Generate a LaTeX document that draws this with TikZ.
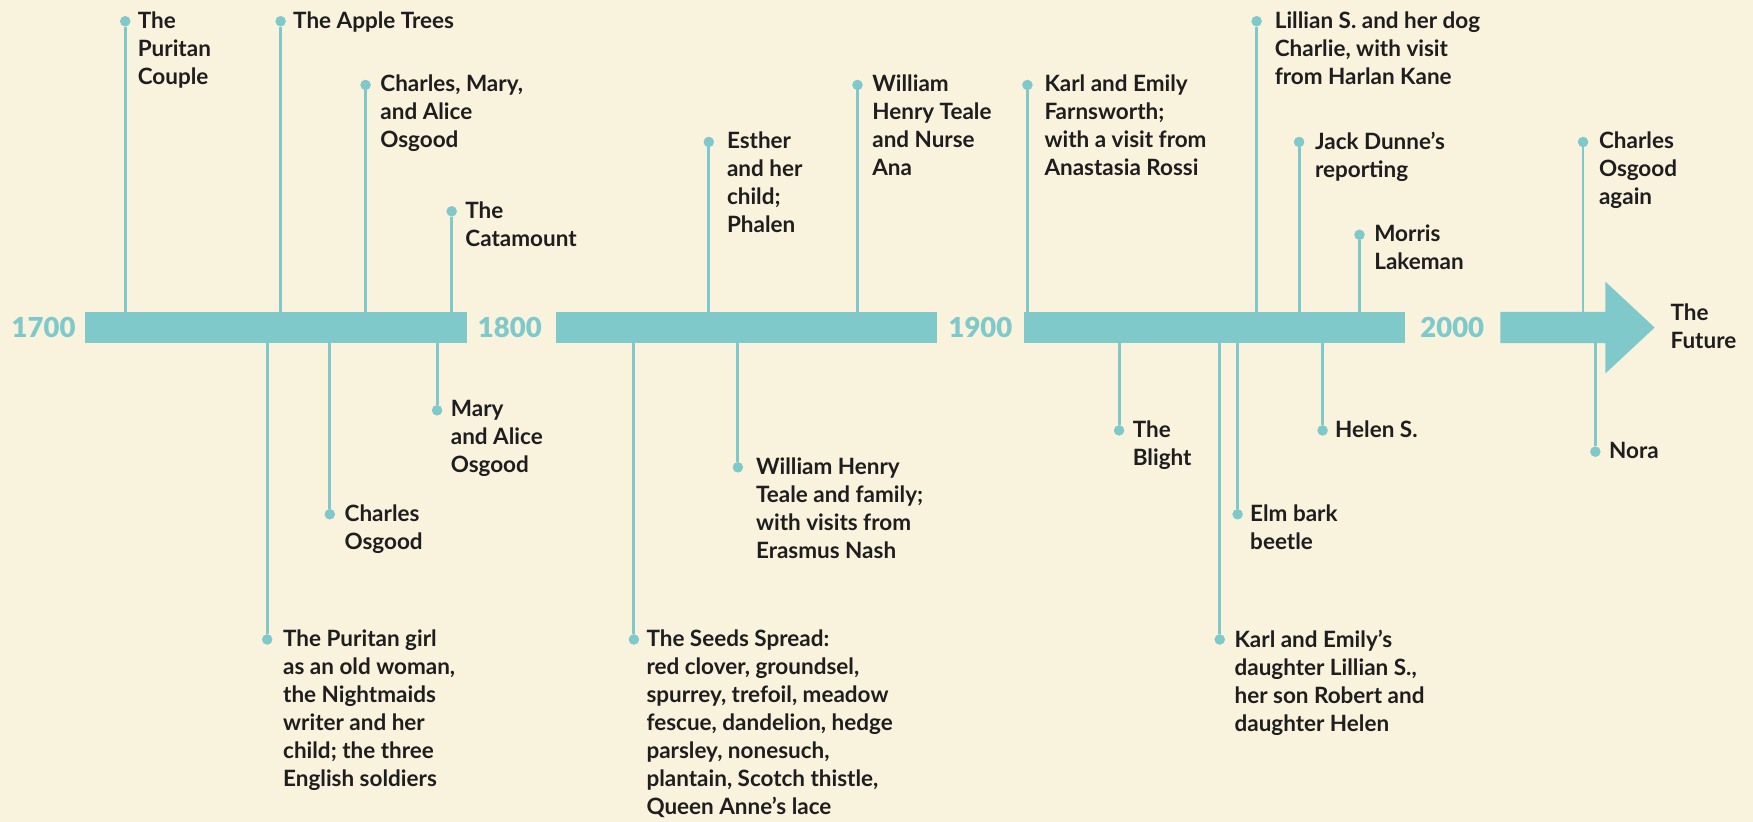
\documentclass[tikz,border=0pt]{standalone}
\usepackage{fontspec}
\setmainfont{Lato}
\IfFontExistsTF{Lato Black}{\newfontfamily\yearfont{Lato Black}}{\newfontfamily\yearfont{Lato}[UprightFont=*-Bold]}
\usetikzlibrary{positioning}

\definecolor{cream}{HTML}{F9F2DD}
\definecolor{aqua}{HTML}{7FC9CB}
\definecolor{ink}{HTML}{1E1E1E}

\tikzset{
  stem/.style={draw=aqua, line width=1.8pt},
  pin/.style={circle, fill=aqua, inner sep=0pt, minimum size=6.5pt},
  event/.style={anchor=north west, inner sep=0pt, align=left, text=ink,
    font=\fontsize{14.3}{17.8}\selectfont\bfseries},
  year/.style={inner sep=0pt, text=aqua, font=\fontsize{17.5}{20}\selectfont\yearfont},
  band/.style={fill=aqua}
}

\begin{document}
\begin{tikzpicture}[x=0.025cm, y=-0.025cm]
        %background
        \fill[cream] (0,0) rectangle (1568,735);
        \useasboundingbox (0,0) rectangle (1568,735);
        \coordinate (bartop) at (0,279);
        \coordinate (barbot) at (0,307);

        %pins above
        \node[pin] (a1) at (112,19) {};
        \node[pin] (a2) at (251,19) {};
        \node[pin] (a3) at (327,76) {};
        \node[pin] (a4) at (404,189) {};
        \node[pin] (a5) at (634,127) {};
        \node[pin] (a6) at (767,76) {};
        \node[pin] (a7) at (919,76) {};
        \node[pin] (a8) at (1124,19) {};
        \node[pin] (a9) at (1162,127) {};
        \node[pin] (a10) at (1216,210) {};
        \node[pin] (a11) at (1416,127) {};

        %pins below
        \node[pin] (b1) at (239,572) {};
        \node[pin] (b2) at (295,460) {};
        \node[pin] (b3) at (391,367) {};
        \node[pin] (b4) at (567,572) {};
        \node[pin] (b5) at (660,418) {};
        \node[pin] (b6) at (1001,385) {};
        \node[pin] (b7) at (1091,572) {};
        \node[pin] (b8) at (1107,460) {};
        \node[pin] (b9) at (1183,385) {};
        \node[pin] (b10) at (1427,404) {};

        %stems
        \foreach \p in {a1,a2,a3,a4,a5,a6,a7,a8,a9,a10,a11}
            \draw[stem] (\p) -- (\p |- bartop);
        \foreach \p in {b1,b2,b3,b4,b5,b6,b7,b8,b9,b10}
            \draw[stem] (\p) -- (\p |- barbot);
        \foreach \p in {a1,a2,a3,a4,a5,a6,a7,a8,a9,a10,a11,b1,b2,b3,b4,b5,b6,b7,b8,b9,b10}
            \fill[aqua] (\p) circle (3.25pt);

        %bar
        \fill[band] (76,279) rectangle (418,307);
        \fill[band] (497,279) rectangle (838,307);
        \fill[band] (916,279) rectangle (1257,307);
        \fill[band] (1342,279) -- (1436,279) -- (1436,252) -- (1480,293)
            -- (1436,334) -- (1436,307) -- (1342,307) -- cycle;

        %years
        \node[year] (y1700) at (39,293) {1700};
        \node[year] (y1800) at (456,293) {1800};
        \node[year] (y1900) at (877,293) {1900};
        \node[year] (y2000) at (1299,293) {2000};
        \node[event, anchor=west] (future) at (1494,292) {The\\Future};

        %labels above
        \node[event] (ta1) at ([shift={(11,-9)}]a1) {The\\Puritan\\Couple};
        \node[event] (ta2) at ([shift={(11,-9)}]a2) {The Apple Trees};
        \node[event] (ta3) at ([shift={(13,-9)}]a3) {Charles, Mary,\\and Alice\\Osgood};
        \node[event] (ta4) at ([shift={(12,-9)}]a4) {The\\Catamount};
        \node[event] (ta5) at ([shift={(16,-9)}]a5) {Esther\\and her\\child;\\Phalen};
        \node[event] (ta6) at ([shift={(13,-9)}]a6) {William\\Henry Teale\\and Nurse\\Ana};
        \node[event] (ta7) at ([shift={(15,-9)}]a7) {Karl and Emily\\Farnsworth;\\with a visit from\\Anastasia Rossi};
        \node[event] (ta8) at ([shift={(16,-9)}]a8) {Lillian S. and her dog\\Charlie, with visit\\from Harlan Kane};
        \node[event] (ta9) at ([shift={(14,-9)}]a9) {Jack Dunne’s\\reporting};
        \node[event] (ta10) at ([shift={(13,-9)}]a10) {Morris\\Lakeman};
        \node[event] (ta11) at ([shift={(14,-9)}]a11) {Charles\\Osgood\\again};

        %labels below
        \node[event] (tb1) at ([shift={(14,-9)}]b1) {The Puritan girl\\as an old woman,\\the Nightmaids\\writer and her\\child; the three\\English soldiers};
        \node[event] (tb2) at ([shift={(13,-9)}]b2) {Charles\\Osgood};
        \node[event] (tb3) at ([shift={(12,-9)}]b3) {Mary\\and Alice\\Osgood};
        \node[event] (tb4) at ([shift={(11,-9)}]b4) {The Seeds Spread:\\red clover, groundsel,\\spurrey, trefoil, meadow\\fescue, dandelion, hedge\\parsley, nonesuch,\\plantain, Scotch thistle,\\Queen Anne’s lace};
        \node[event] (tb5) at ([shift={(16,-9)}]b5) {William Henry\\Teale and family;\\with visits from\\Erasmus Nash};
        \node[event] (tb6) at ([shift={(12,-9)}]b6) {The\\Blight};
        \node[event] (tb7) at ([shift={(13,-9)}]b7) {Karl and Emily’s\\daughter Lillian S.,\\her son Robert and\\daughter Helen};
        \node[event] (tb8) at ([shift={(11,-9)}]b8) {Elm bark\\beetle};
        \node[event] (tb9) at ([shift={(11,-9)}]b9) {Helen S.};
        \node[event] (tb10) at ([shift={(12,-9)}]b10) {Nora};
\end{tikzpicture}
\end{document}
